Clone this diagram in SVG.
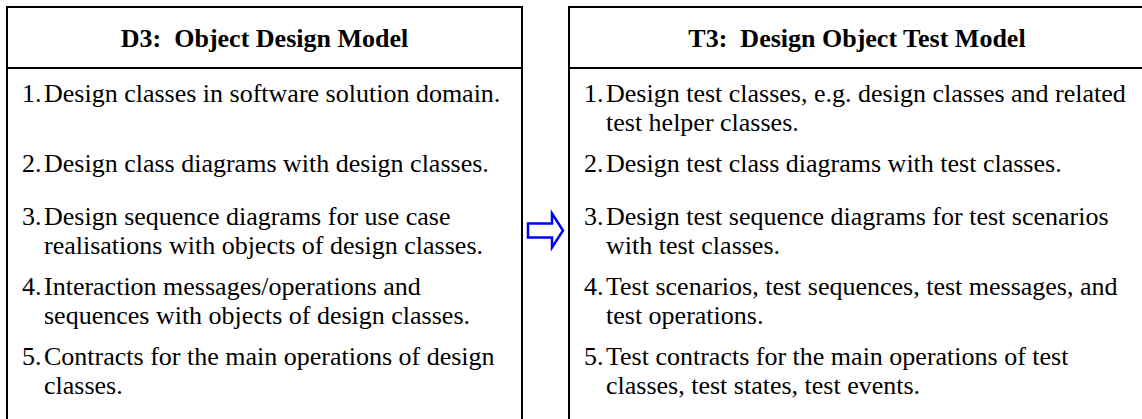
<svg xmlns="http://www.w3.org/2000/svg" width="1142" height="419" viewBox="0 0 1142 419">
<style>
.box{fill:#fff;stroke:#000;stroke-width:2}
.sep{stroke:#000;stroke-width:2}
.title{font-family:"Liberation Serif","Times New Roman",serif;font-size:26px;font-weight:bold;text-anchor:middle;fill:#000}
.txt{font-family:"Liberation Serif","Times New Roman",serif;font-size:26px;fill:#000}
.arrow{fill:#fff;stroke:#0000ff;stroke-width:2.5;stroke-linejoin:miter}
</style>
<rect width="1142" height="419" fill="#fff"/>
<g id="d3">
<rect class="box" x="7" y="7" width="515" height="430"/>
<line class="sep" x1="7" y1="68" x2="522" y2="68"/>
<text class="title" x="264.5" y="47" xml:space="preserve">D3:  Object Design Model</text>
<text class="txt" x="22" y="102">1.</text><text class="txt" x="44" y="102">Design classes in software solution domain.</text>
<text class="txt" x="22" y="172">2.</text><text class="txt" x="44" y="172">Design class diagrams with design classes.</text>
<text class="txt" x="22" y="225">3.</text><text class="txt" x="44" y="225">Design sequence diagrams for use case</text>
<text class="txt" x="44" y="254">realisations with objects of design classes.</text>
<text class="txt" x="22" y="295">4.</text><text class="txt" x="44" y="295">Interaction messages/operations and</text>
<text class="txt" x="44" y="324">sequences with objects of design classes.</text>
<text class="txt" x="22" y="365">5.</text><text class="txt" x="44" y="365">Contracts for the main operations of design</text>
<text class="txt" x="44" y="394">classes.</text>
</g>
<g id="t3">
<rect class="box" x="569" y="7" width="580" height="430"/>
<line class="sep" x1="569" y1="68" x2="1149" y2="68"/>
<text class="title" x="857" y="47" xml:space="preserve">T3:  Design Object Test Model</text>
<text class="txt" x="584" y="102">1.</text><text class="txt" x="606" y="102">Design test classes, e.g. design classes and related</text>
<text class="txt" x="606" y="131">test helper classes.</text>
<text class="txt" x="584" y="172">2.</text><text class="txt" x="606" y="172">Design test class diagrams with test classes.</text>
<text class="txt" x="584" y="225">3.</text><text class="txt" x="606" y="225">Design test sequence diagrams for test scenarios</text>
<text class="txt" x="606" y="254">with test classes.</text>
<text class="txt" x="584" y="295">4.</text><text class="txt" x="606" y="295">Test scenarios, test sequences, test messages, and</text>
<text class="txt" x="606" y="324">test operations.</text>
<text class="txt" x="584" y="365">5.</text><text class="txt" x="606" y="365">Test contracts for the main operations of test</text>
<text class="txt" x="606" y="394">classes, test states, test events.</text>
</g>
<g id="connectors">
<polygon class="arrow" points="528,223.5 552,223.5 552,213.5 563,230.5 552,247.5 552,237.5 528,237.5"/>
</g>
</svg>
